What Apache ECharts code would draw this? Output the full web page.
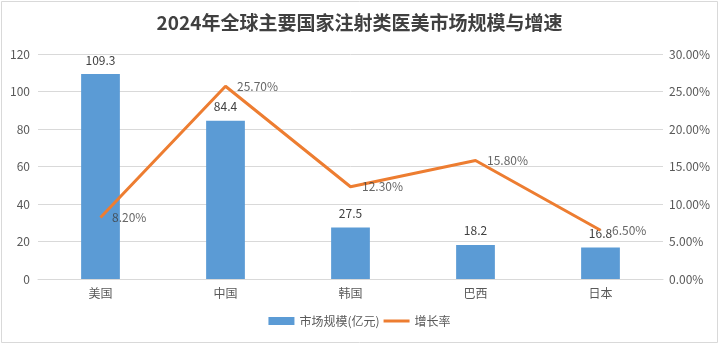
<!DOCTYPE html>
<html>
<head>
<meta charset="utf-8">
<script src="https://cdn.jsdelivr.net/npm/echarts@6/dist/echarts.min.js"></script>
<style>
html,body{margin:0;padding:0;background:#fff;}
#c{width:719px;height:344px;}
</style>
</head>
<body>
<div id="c"></div>
<script>
const titleText = '2024年全球主要国家注射类医美市场规模与增速';
const categories = ['美国', '中国', '韩国', '巴西', '日本'];
const marketSize = [109.3, 84.4, 27.5, 18.2, 16.8];
const growthRate = [8.20, 25.70, 12.30, 15.80, 6.50];
const seriesNames = ['市场规模(亿元)', '增长率'];

const FONT = '"Noto Sans CJK SC", "Microsoft YaHei", sans-serif';
const chart = echarts.init(document.getElementById('c'));
chart.setOption({
  animation: false,
  backgroundColor: '#fff',
  textStyle: { fontFamily: FONT },
  title: {
    text: titleText,
    left: 'center',
    top: 8,
    textStyle: { fontFamily: FONT, fontSize: 19, fontWeight: 'bold', color: '#404040' }
  },
  graphic: [{
    type: 'rect', shape: { x: 1.5, y: 1.5, width: 716, height: 341 },
    style: { fill: 'none', stroke: '#d9d9d9', lineWidth: 1 }, silent: true
  }],
  legend: {
    bottom: 12,
    left: 'center',
    itemWidth: 26,
    itemHeight: 8,
    itemGap: 4,
    symbolKeepAspect: true,
    textStyle: { fontFamily: FONT, fontSize: 12, color: '#595959' },
    data: [
      { name: seriesNames[0], icon: 'rect' },
      { name: seriesNames[1], icon: 'path://M0,0 L26,0 L26,3 L0,3 Z', itemStyle: { color: '#ED7D31' } }
    ]
  },
  grid: { left: 38, right: 56, top: 54, bottom: 65 },
  xAxis: {
    type: 'category',
    data: categories,
    axisTick: { show: false },
    axisLine: { lineStyle: { color: '#d9d9d9' } },
    axisLabel: { color: '#595959', fontSize: 12, margin: 8, fontFamily: FONT }
  },
  yAxis: [{
    type: 'value', min: 0, max: 120, interval: 20,
    axisLine: { show: false }, axisTick: { show: false },
    splitLine: { lineStyle: { color: '#d9d9d9' } },
    axisLabel: { color: '#595959', fontSize: 12, margin: 8, fontFamily: FONT }
  }, {
    type: 'value', min: 0, max: 30, interval: 5,
    axisLine: { show: false }, axisTick: { show: false },
    splitLine: { show: false },
    axisLabel: { color: '#595959', fontSize: 12, margin: 6, fontFamily: FONT,
      formatter: v => v.toFixed(2) + '%' }
  }],
  series: [{
    name: seriesNames[0],
    type: 'bar',
    data: marketSize,
    barWidth: '31%',
    itemStyle: { color: '#5B9BD5' },
    label: { show: true, position: 'top', distance: 8, color: '#404040', fontSize: 12, fontFamily: FONT }
  }, {
    name: seriesNames[1],
    type: 'line',
    yAxisIndex: 1,
    data: growthRate,
    symbol: 'none',
    lineStyle: { color: '#ED7D31', width: 3 },
    itemStyle: { color: '#ED7D31' }
  }, {
    name: 'rateLabels',
    type: 'scatter',
    yAxisIndex: 1,
    data: growthRate,
    symbolSize: 1,
    itemStyle: { color: 'rgba(0,0,0,0)' },
    z: 5,
    label: { show: true, position: 'right', distance: 11, color: '#404040', fontSize: 12, fontFamily: FONT,
      formatter: p => p.value.toFixed(2) + '%' }
  }]
});
</script>
</body>
</html>
